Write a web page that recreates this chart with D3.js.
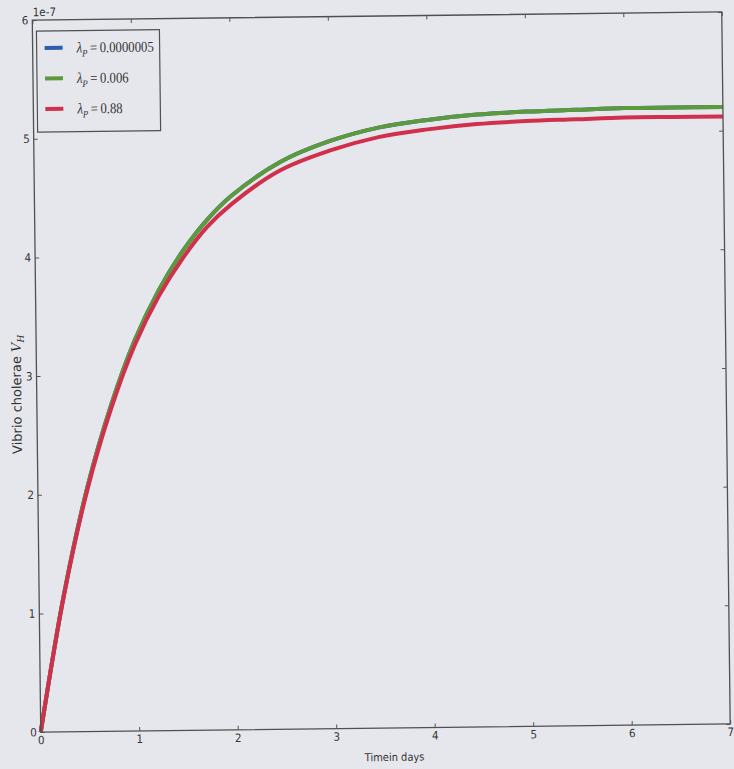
<!DOCTYPE html>
<html>
<head>
<meta charset="utf-8">
<script src="https://cdn.jsdelivr.net/npm/d3@7"></script>
<style>
  body { margin: 0; background: #e6e7ec; }
  svg { display: block; }
  .tick text { font-family: "DejaVu Sans Condensed", "DejaVu Sans", sans-serif; font-size: 11.5px; fill: #333; }
</style>
</head>
<body>
<div id="chart"></div>
<script>
// values (units of 1e-7)
const days = [0, 0.25, 0.5, 0.75, 1, 1.25, 1.5, 1.75, 2, 2.5, 3, 3.5, 4, 4.5, 5, 5.5, 6, 6.5, 7];
const vBlue = [0, 1.15, 2.05, 2.74, 3.29, 3.71, 4.04, 4.3, 4.5, 4.78, 4.95, 5.06, 5.12, 5.16, 5.18, 5.19, 5.2, 5.2, 5.2];
const vGreen = [0, 1.15, 2.05, 2.74, 3.29, 3.71, 4.04, 4.3, 4.5, 4.78, 4.95, 5.06, 5.12, 5.16, 5.18, 5.19, 5.2, 5.2, 5.2];
const vRed = [0, 1.14, 2.03, 2.71, 3.25, 3.66, 3.98, 4.24, 4.43, 4.71, 4.87, 4.98, 5.04, 5.08, 5.1, 5.11, 5.12, 5.12, 5.12];
const legendLabels = ['0.0000005', '0.006', '0.88'];
const colors = ['#2a5fae', '#5c9a3c', '#d1304c'];
const xTicks = [0, 1, 2, 3, 4, 5, 6, 7];
const yTicks = [0, 1, 2, 3, 4, 5, 6];

const width = 734;
const height = 769;
const leftX = 36.5, rightX = 726, topY = 16, bottomY = 728;

const svg = d3.select('#chart')
  .append('svg')
  .attr('width', width)
  .attr('height', height);

// scanned page is slightly tilted
const g = svg.append('g')
  .attr('transform', 'rotate(-0.68, 384, 372)');

const x = d3.scaleLinear().domain([0, 7]).range([leftX, rightX]);
const y = d3.scaleLinear().domain([0, 6]).range([bottomY, topY]);

const line = d3.line()
  .x((d, i) => x(days[i]))
  .y(d => y(d))
  .curve(d3.curveCatmullRom.alpha(0.5));

[vBlue, vGreen, vRed].forEach((s, i) => {
  g.append('path')
    .datum(s)
    .attr('d', line)
    .attr('fill', 'none')
    .attr('stroke', colors[i])
    .attr('stroke-width', 4);
});

//Axes, ticks pointing inward
const xAxis = g.append('g')
  .attr('transform', `translate(0,${bottomY})`)
  .call(d3.axisBottom(x).tickValues(xTicks).tickSizeInner(-4).tickSizeOuter(0).tickPadding(4).tickFormat(d3.format('d')));
const xTop = g.append('g')
  .attr('transform', `translate(0,${topY})`)
  .call(d3.axisTop(x).tickValues(xTicks).tickSizeInner(-4).tickSizeOuter(0).tickFormat(''));
const yAxis = g.append('g')
  .attr('transform', `translate(${leftX},0)`)
  .call(d3.axisLeft(y).tickValues(yTicks).tickSizeInner(-4).tickSizeOuter(0).tickPadding(4).tickFormat(d3.format('d')));
const yRight = g.append('g')
  .attr('transform', `translate(${rightX},0)`)
  .call(d3.axisRight(y).tickValues(yTicks).tickSizeInner(-4).tickSizeOuter(0).tickFormat(''));

[xAxis, xTop, yAxis, yRight].forEach(a => {
  a.select('.domain').remove();
  a.selectAll('.tick line').attr('stroke', '#555');
});

g.append('rect')
  .attr('x', leftX).attr('y', topY)
  .attr('width', rightX - leftX).attr('height', bottomY - topY)
  .attr('fill', 'none')
  .attr('stroke', '#505050')
  .attr('stroke-width', 1.3);

g.append('text')
  .attr('x', leftX + 0.5).attr('y', topY - 4)
  .attr('font-family', '"DejaVu Sans Condensed", "DejaVu Sans", sans-serif')
  .attr('font-size', 11.5).attr('fill', '#333')
  .text('1e-7');

//Labels
g.append('text')
  .attr('x', 390).attr('y', 761)
  .attr('text-anchor', 'middle')
  .attr('font-family', '"DejaVu Sans Condensed", "DejaVu Sans", sans-serif')
  .attr('font-size', 11).attr('fill', '#333')
  .text('Timein days');

const yl = g.append('text')
  .attr('transform', 'translate(21,390) rotate(-90)')
  .attr('text-anchor', 'middle')
  .attr('font-family', '"DejaVu Sans", sans-serif')
  .attr('font-size', 13).attr('fill', '#333');
yl.append('tspan').text('Vibrio cholerae ');
yl.append('tspan').attr('font-family', '"DejaVu Serif", serif').attr('font-style', 'italic').text('V');
yl.append('tspan').attr('font-family', '"DejaVu Serif", serif').attr('font-style', 'italic')
  .attr('font-size', 9).attr('dy', 3).text('H');

//Legend
const legend = g.append('g').attr('transform', `translate(${leftX + 4},${topY + 11})`);
legend.append('rect')
  .attr('width', 123).attr('height', 101)
  .attr('fill', '#e6e7ec')
  .attr('stroke', '#505050')
  .attr('stroke-width', 1.2);

legendLabels.forEach((lab, i) => {
  const row = legend.append('g').attr('transform', `translate(0,${17 + i * 30.5})`);
  row.append('line')
    .attr('x1', 8).attr('x2', 26)
    .attr('stroke', colors[i]).attr('stroke-width', 4);
  const t = row.append('text')
    .attr('transform', 'translate(40,5) scale(0.85,1)')
    .attr('font-family', '"Liberation Serif", serif')
    .attr('font-size', 15).attr('fill', '#333');
  t.append('tspan').attr('font-style', 'italic').text('\u03bb');
  t.append('tspan').attr('font-style', 'italic').attr('font-size', 10).attr('dy', 4).text('P');
  t.append('tspan').attr('dy', -4).text('\u2009=\u2009' + lab);
});
</script>
</body>
</html>
